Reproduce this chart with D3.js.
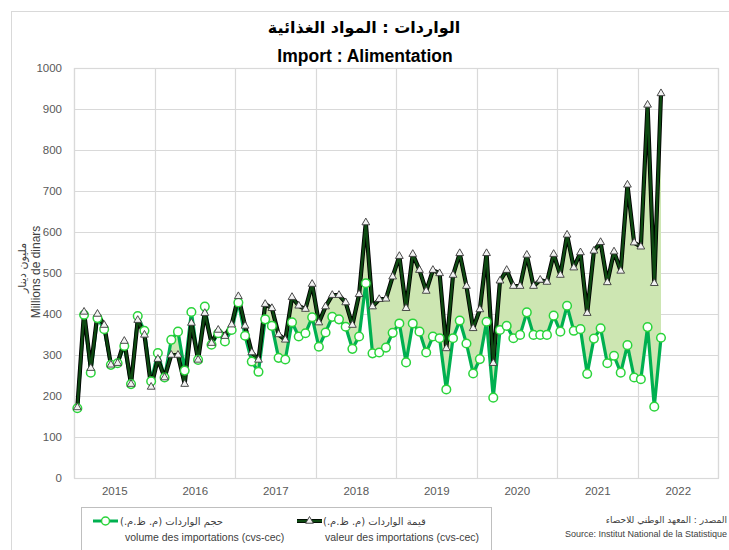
<!DOCTYPE html>
<html>
<head>
<meta charset="utf-8">
<script src="https://cdn.jsdelivr.net/npm/d3@7"></script>
<style>
html,body{margin:0;padding:0;background:#fff;}
svg{display:block;font-family:"Liberation Sans",Arial,sans-serif;}
</style>
</head>
<body>
<svg id="chart" width="729" height="550"></svg>
<script>
// ---- DATA ----
const years = ["2015","2016","2017","2018","2019","2020","2021","2022"];
const yTicks = [0,100,200,300,400,500,600,700,800,900,1000];
// monthly values, Jan 2015 .. Apr 2022
const valeur = [172,405,268,400,373,276,280,334,229,385,349,222,
                290,245,300,300,229,378,288,402,329,361,346,374,
                443,371,306,288,424,414,350,337,441,420,412,473,
                379,418,446,446,428,373,448,623,418,436,437,491,
                541,414,546,507,456,507,499,316,495,548,468,365,
                411,548,280,481,507,468,468,544,468,483,478,546,
                495,593,513,550,402,554,575,477,552,505,715,574,
                564,910,475,938];
const volume = [170,398,257,390,363,276,280,322,229,395,359,236,
                305,245,337,357,262,405,288,418,325,353,333,361,
                428,347,284,259,387,371,293,289,380,345,353,392,
                320,355,393,387,369,315,345,475,304,306,318,354,
                377,282,377,357,306,345,341,216,341,384,328,255,
                290,381,196,361,371,341,349,404,349,349,349,396,
                357,420,359,363,254,340,365,280,298,257,324,245,
                241,368,174,342];
const titleAr = "الواردات : المواد  الغذائية";
const titleFr = "Import : Alimentation";
const yTitleFr = "Millions de dinars";
const yTitleAr = "مليون دينار";
const legendVolAr = "حجم الواردات (م. ظ.م.)";
const legendVolFr = "volume des importations (cvs-cec)";
const legendValAr = "قيمة  الواردات (م. ظ.م.)";
const legendValFr = "valeur des importations (cvs-cec)";
const sourceAr = "المصدر : المعهد الوطني للاحصاء";
const sourceFr = "Source: Institut National de la Statistique";

// ---- LAYOUT ----
const svg = d3.select("#chart");
const plot = {left:74, right:718, top:68, bottom:478};
const nCat = years.length*12;
const x = d3.scaleLinear().domain([0,nCat]).range([plot.left, plot.right]);
const y = d3.scaleLinear().domain([0,1000]).range([plot.bottom, plot.top]);
const gridColor = "#d9d9d9";
const textColor = "#595959";

// outer frame
svg.append("rect").attr("x",11.5).attr("y",11.5).attr("width",740).attr("height",560)
  .attr("fill","none").attr("stroke",gridColor);

// titles
svg.append("text").attr("x",364).attr("y",33).attr("text-anchor","middle")
  .attr("direction","rtl").attr("font-family","DejaVu Sans, sans-serif")
  .attr("font-weight","bold").attr("font-size",16).attr("fill","#000").text(titleAr);
svg.append("text").attr("x",365).attr("y",62).attr("text-anchor","middle")
  .attr("font-weight","bold").attr("font-size",17.5).attr("fill","#000").text(titleFr);

// gridlines
const g = svg.append("g");
g.selectAll(".hg").data(yTicks).join("line")
  .attr("x1",plot.left).attr("x2",plot.right)
  .attr("y1",d=>Math.round(y(d))+0.5).attr("y2",d=>Math.round(y(d))+0.5)
  .attr("stroke",gridColor).attr("stroke-width",1.2);
g.selectAll(".vg").data(d3.range(0,nCat+1,12)).join("line")
  .attr("x1",d=>Math.round(x(d))+0.5).attr("x2",d=>Math.round(x(d))+0.5)
  .attr("y1",plot.top).attr("y2",plot.bottom)
  .attr("stroke",gridColor).attr("stroke-width",1.2);
svg.append("rect").attr("x",plot.left+0.5).attr("y",plot.top+0.5)
  .attr("width",plot.right-plot.left).attr("height",plot.bottom-plot.top)
  .attr("fill","none").attr("stroke",gridColor).attr("stroke-width",1.2);

// y axis labels
const yAxis = d3.axisLeft(y).tickValues(yTicks).tickFormat(d3.format("d"))
  .tickSize(0).tickPadding(12);
const ya = svg.append("g").attr("transform",`translate(${plot.left},0)`).call(yAxis);
ya.select(".domain").remove();
ya.selectAll("text").attr("font-size",11.5).attr("fill",textColor)
  .attr("font-family","Liberation Sans, Arial, sans-serif");

// x axis labels (years centred in each 12-month band)
const xAxis = d3.axisBottom(x).tickValues(d3.range(6,nCat,12))
  .tickFormat((d,i)=>years[i]).tickSize(0).tickPadding(9);
const xa = svg.append("g").attr("transform",`translate(0,${plot.bottom})`).call(xAxis);
xa.select(".domain").remove();
xa.selectAll("text").attr("font-size",11.5).attr("fill",textColor)
  .attr("font-family","Liberation Sans, Arial, sans-serif");

// y axis titles
svg.append("text").attr("transform","translate(40,272) rotate(-90)")
  .attr("text-anchor","middle").attr("font-size",12).attr("fill","#404040").text(yTitleFr);
svg.append("text").attr("transform","translate(26,268) rotate(-90)")
  .attr("text-anchor","middle").attr("direction","rtl").attr("font-size",11)
  .attr("font-family","DejaVu Sans, sans-serif").attr("fill","#404040").text(yTitleAr);

// series
const px = (d,i)=>x(i+0.5);
const area = d3.area().x(px).y0((d,i)=>y(volume[i])).y1(d=>y(d));
svg.append("path").datum(valeur).attr("d",area).attr("fill","#cde6b2");

const line = d3.line().x(px).y(d=>y(d));
svg.append("path").datum(volume).attr("d",line).attr("fill","none")
  .attr("stroke","#00b050").attr("stroke-width",3.2).attr("stroke-linejoin","round");
svg.append("path").datum(valeur).attr("d",line).attr("fill","none")
  .attr("stroke","#000").attr("stroke-width",4.2).attr("stroke-linejoin","round");
svg.append("path").datum(valeur).attr("d",line).attr("fill","none")
  .attr("stroke","#0e4a12").attr("stroke-width",2.4).attr("stroke-linejoin","round");

svg.append("g").selectAll("circle").data(volume).join("circle")
  .attr("cx",px).attr("cy",d=>y(d)).attr("r",4.3)
  .attr("fill","#fff").attr("stroke","#2bd43b").attr("stroke-width",1.5);

const tri = d3.symbol().type(d3.symbolTriangle).size(26);
svg.append("g").selectAll("path").data(valeur).join("path")
  .attr("d",tri).attr("transform",(d,i)=>`translate(${px(d,i)},${y(d)})`)
  .attr("fill","#f2f2f2").attr("stroke","#3a3a3a").attr("stroke-width",0.9);

// legend
svg.append("rect").attr("x",81.5).attr("y",507.5).attr("width",410).attr("height",60)
  .attr("fill","none").attr("stroke","#bfbfbf");

function rtlText(xLeft, yPos, str, size, color){
  const t = svg.append("text").attr("y",yPos).attr("direction","rtl")
    .attr("text-anchor","middle").attr("font-size",size)
    .attr("font-family","DejaVu Sans, sans-serif").attr("fill",color).text(str);
  const L = t.node().getComputedTextLength();
  t.attr("x", xLeft + L/2);
  return t;
}
function rtlTextRight(xRight, yPos, str, size, color){
  const t = svg.append("text").attr("y",yPos).attr("direction","rtl")
    .attr("text-anchor","middle").attr("font-size",size)
    .attr("font-family","DejaVu Sans, sans-serif").attr("fill",color).text(str);
  const L = t.node().getComputedTextLength();
  t.attr("x", xRight - L/2);
  return t;
}

// volume entry
svg.append("line").attr("x1",93).attr("x2",118).attr("y1",521).attr("y2",521)
  .attr("stroke","#00b050").attr("stroke-width",3);
svg.append("circle").attr("cx",105.5).attr("cy",521).attr("r",4)
  .attr("fill","#fff").attr("stroke","#2bd43b").attr("stroke-width",1.5);
rtlText(120, 525, legendVolAr, 10, "#404040");
svg.append("text").attr("x",125).attr("y",541).attr("font-size",10.5)
  .attr("fill","#404040").text(legendVolFr);

// value entry
svg.append("line").attr("x1",297).attr("x2",322).attr("y1",521).attr("y2",521)
  .attr("stroke","#000").attr("stroke-width",4);
svg.append("line").attr("x1",297).attr("x2",322).attr("y1",521).attr("y2",521)
  .attr("stroke","#0e4a12").attr("stroke-width",2.4);
svg.append("path").attr("d",tri).attr("transform","translate(309.5,521)")
  .attr("fill","#f2f2f2").attr("stroke","#3a3a3a").attr("stroke-width",0.9);
rtlText(323, 525, legendValAr, 10, "#404040");
svg.append("text").attr("x",325).attr("y",541).attr("font-size",10.5)
  .attr("fill","#404040").text(legendValFr);

// source
rtlTextRight(727, 523, sourceAr, 9, "#404040");
svg.append("text").attr("x",727).attr("y",537).attr("text-anchor","end")
  .attr("font-size",9).attr("fill","#404040").text(sourceFr);
</script>
</body>
</html>
